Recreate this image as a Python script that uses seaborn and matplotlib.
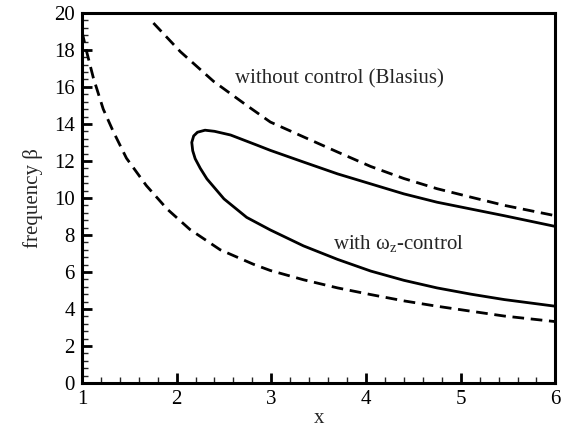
import matplotlib
matplotlib.use("Agg")
import matplotlib.pyplot as plt
from matplotlib.ticker import MultipleLocator
import seaborn as sns
import pandas as pd

# Neutral curve without control (Blasius) - upper branch
blasius_upper_x = [1.755, 2.04, 2.39, 2.74, 2.99, 3.34, 3.70, 4.05, 4.40, 4.75, 5.11, 5.46, 6.00]
blasius_upper_y = [19.45, 17.9, 16.3, 15.0, 14.1, 13.3, 12.48, 11.7, 11.05, 10.5, 10.04, 9.6, 9.04]
# Neutral curve without control (Blasius) - lower branch
blasius_lower_x = [1.00, 1.05, 1.12, 1.225, 1.33, 1.47, 1.68, 1.90, 2.14, 2.46, 2.81, 2.99, 3.34, 3.70, 4.05, 4.40, 4.75, 5.11, 5.46, 6.00]
blasius_lower_y = [19.0, 17.9, 16.5, 14.8, 13.6, 12.15, 10.67, 9.4, 8.3, 7.2, 6.42, 6.08, 5.58, 5.14, 4.78, 4.44, 4.15, 3.88, 3.62, 3.32]

# Neutral curve with omega_z control (closed loop: upper branch right->left, lower branch left->right)
control_x = [6.00, 5.46, 5.11, 4.75, 4.40, 4.05, 3.70, 3.34, 2.99, 2.85, 2.57, 2.40, 2.30, 2.22, 2.18, 2.16,
             2.17, 2.196, 2.25, 2.32, 2.50, 2.74, 2.99, 3.34, 3.70, 4.05, 4.40, 4.75, 5.11, 5.46, 6.00]
control_y = [8.46, 9.04, 9.4, 9.77, 10.22, 10.76, 11.3, 11.94, 12.57, 12.85, 13.4, 13.6, 13.66, 13.55, 13.35, 13.0,
             12.55, 12.12, 11.6, 11.03, 9.95, 8.95, 8.27, 7.41, 6.68, 6.05, 5.55, 5.14, 4.8, 4.51, 4.15]

x_ticks = [1, 2, 3, 4, 5, 6]
y_ticks = [0, 2, 4, 6, 8, 10, 12, 14, 16, 18, 20]

sns.set_theme(style="white")
plt.rcParams['font.family'] = ['Liberation Serif', 'DejaVu Serif']
plt.rcParams['mathtext.fontset'] = 'custom'
plt.rcParams['mathtext.rm'] = 'Liberation Serif'
plt.rcParams['mathtext.it'] = 'Liberation Serif'

fig = plt.figure(figsize=(5.65, 4.28), dpi=100)
ax = fig.add_axes([0.145, 0.105, 0.838, 0.865])

df_bu = pd.DataFrame({"x": blasius_upper_x, "y": blasius_upper_y})
df_bl = pd.DataFrame({"x": blasius_lower_x, "y": blasius_lower_y})
df_c = pd.DataFrame({"x": control_x, "y": control_y})

dash = (4.2, 2.4)
lw = 2.0
sns.lineplot(data=df_bu, x="x", y="y", sort=False, estimator=None, ax=ax,
             color="black", linewidth=lw, linestyle=(0, dash))
sns.lineplot(data=df_bl, x="x", y="y", sort=False, estimator=None, ax=ax,
             color="black", linewidth=lw, linestyle=(0, dash))
sns.lineplot(data=df_c, x="x", y="y", sort=False, estimator=None, ax=ax,
             color="black", linewidth=lw)
for line in ax.lines:
    line.set_solid_joinstyle("round")
    line.set_dash_capstyle("butt")

ax.set_xlim(1, 6)
ax.set_ylim(0, 20)
ax.set_xticks(x_ticks)
ax.set_yticks(y_ticks)
ax.set_xticklabels([str(t) for t in x_ticks])
ax.set_yticklabels([str(t) for t in y_ticks])
ax.xaxis.set_minor_locator(MultipleLocator(0.2))
ax.yaxis.set_minor_locator(MultipleLocator(0.4))
ax.tick_params(which="major", direction="in", length=7, width=2.0, labelsize=15, colors="black", pad=5,
               bottom=True, left=True, top=False, right=False)
ax.tick_params(which="minor", direction="in", length=4.2, width=1.0,
               bottom=True, left=True, top=False, right=False)
for s in ax.spines.values():
    s.set_linewidth(2.2)
    s.set_color("black")

ax.set_xlabel("x", fontsize=15, labelpad=0)
ax.set_ylabel("frequency β", fontsize=15, labelpad=8)

ax.text(2.62, 16.45, "without control (Blasius)", fontsize=15, ha="left", va="center")
ax.text(3.655, 7.55, "with ω$_{\\mathrm{z}}$-control", fontsize=15, ha="left", va="center")

fig.savefig("out.png", dpi=100)
